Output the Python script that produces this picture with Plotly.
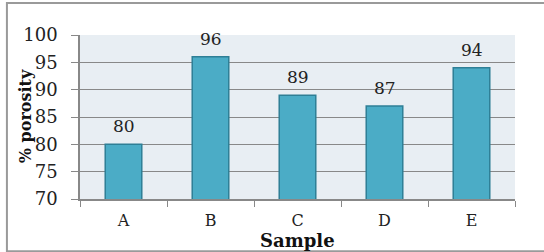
import plotly.graph_objects as go

categories = ["A", "B", "C", "D", "E"]
porosity = [80, 96, 89, 87, 94]
y_ticks = [70, 75, 80, 85, 90, 95, 100]

FONT = "DejaVu Serif"

fig = go.Figure()
fig.add_trace(go.Bar(
    x=categories, y=porosity,
    marker=dict(color="#4BACC6", line=dict(color="#2E7F96", width=1.5)),
    width=0.42,
))

for c, v in zip(categories, porosity):
    fig.add_annotation(x=c, y=v, text=str(v), showarrow=False,
                       yanchor="bottom", yshift=6,
                       font=dict(family=FONT, size=17, color="#222"))

fig.add_annotation(xref="paper", yref="paper", x=-0.126, y=0.506,
                   text="<b>% porosity</b>", textangle=-90, showarrow=False,
                   xanchor="center", yanchor="middle",
                   font=dict(family=FONT, size=16, color="#111"))

fig.add_annotation(xref="paper", yref="paper", x=0.5, y=-0.25,
                   text="<b>Sample</b>", showarrow=False, yanchor="middle",
                   font=dict(family=FONT, size=18, color="#111"))

fig.add_shape(type="rect", xref="paper", yref="paper",
              x0=-0.168, x1=1.08, y0=-0.318, y1=1.195,
              line=dict(color="#9a9a9a", width=2), layer="below")

fig.update_layout(
    width=544, height=252,
    margin=dict(l=80, r=29, t=35, b=53),
    paper_bgcolor="white",
    plot_bgcolor="#E8EEF3",
    showlegend=False,
    font=dict(family=FONT, size=15, color="#222"),
    xaxis=dict(
        showline=True, linecolor="#888", linewidth=1.5,
        ticks="outside", ticklen=6, tickcolor="#888", tickson="boundaries",
        tickfont=dict(family=FONT, size=16),
        ticklabelstandoff=6,
        showgrid=False,
    ),
    yaxis=dict(
        range=[70, 100], tickvals=y_ticks,
        showline=True, linecolor="#888", linewidth=1.5,
        ticks="outside", ticklen=7, tickcolor="#888",
        showgrid=True, gridcolor="#888", gridwidth=1.2,
        tickfont=dict(family=FONT, size=18),
        ticklabelstandoff=10,
        zeroline=False,
    ),
)

fig.write_html("out.html",
               config={"displayModeBar": False},
               post_script="document.body.style.margin='0';document.body.style.overflow='hidden';")
